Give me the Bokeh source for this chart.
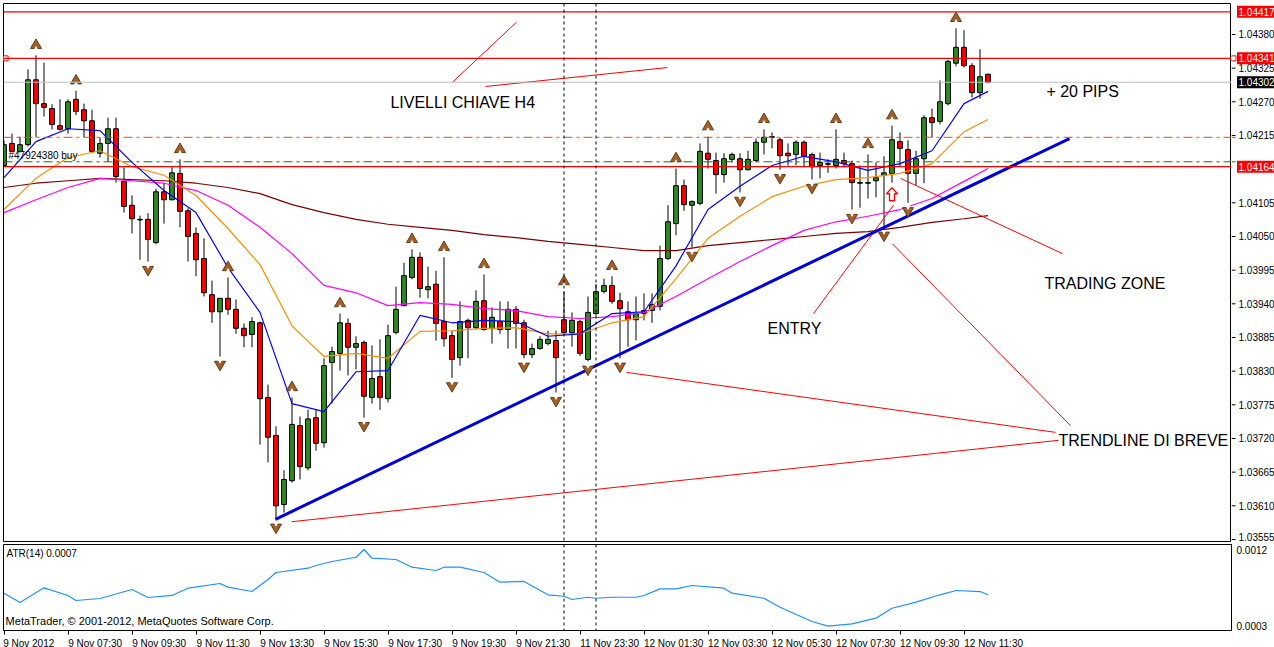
from bokeh.plotting import figure
from bokeh.layouts import column, row
from bokeh.models import (Range1d, FixedTicker, PrintfTickFormatter, CustomJSTickFormatter,
                          Label, Span, ColumnDataSource)
from bokeh.core.properties import value
from bokeh.embed import file_html
from bokeh.resources import INLINE

# ---------------- data (M15 chart) ----------------
opens = [1.04166, 1.04202, 1.04189, 1.04200, 1.04306, 1.04267, 1.04259, 1.04231, 1.04226, 1.04274,
         1.04257, 1.04239, 1.04186, 1.04202, 1.04226, 1.04140, 1.04101, 1.04078, 1.04078, 1.04040,
         1.04123, 1.04110, 1.04153, 1.04092, 1.04055, 1.04014, 1.03955, 1.03927, 1.03949, 1.03931,
         1.03900, 1.03890, 1.03909, 1.03787, 1.03725, 1.03612, 1.03651, 1.03741, 1.03672, 1.03754,
         1.03713, 1.03844, 1.03859, 1.03908, 1.03869, 1.03877, 1.03787, 1.03821, 1.03785, 1.03893,
         1.03937, 1.03983, 1.04016, 1.03963, 1.03972, 1.03911, 1.03888, 1.03852, 1.03913, 1.03901,
         1.03945, 1.03900, 1.03911, 1.03898, 1.03931, 1.03909, 1.03857, 1.03867, 1.03875, 1.03880,
         1.03914, 1.03893, 1.03911, 1.03849, 1.03924, 1.03960, 1.03970, 1.03945, 1.03927, 1.03914,
         1.03924, 1.03929, 1.03936, 1.04014, 1.04071, 1.04133, 1.04101, 1.04104, 1.04186, 1.04174,
         1.04151, 1.04176, 1.04177, 1.04159, 1.04174, 1.04204, 1.04213, 1.04208, 1.04186, 1.04184,
         1.04204, 1.04184, 1.04166, 1.04169, 1.04166, 1.04174, 1.04169, 1.04138, 1.04138, 1.04141,
         1.04150, 1.04153, 1.04205, 1.04192, 1.04153, 1.04177, 1.04244, 1.04238, 1.04267, 1.04333,
         1.04359, 1.04329, 1.04285, 1.04315]
highs = [1.04207, 1.04218, 1.04213, 1.04323, 1.04346, 1.04334, 1.04266, 1.04274, 1.04274, 1.04288,
         1.04267, 1.04257, 1.04212, 1.04244, 1.04244, 1.04163, 1.04117, 1.04084, 1.04088, 1.04128,
         1.04137, 1.04163, 1.04176, 1.04096, 1.04065, 1.04047, 1.03978, 1.03949, 1.03983, 1.03947,
         1.03908, 1.03918, 1.03911, 1.03808, 1.03740, 1.03668, 1.03787, 1.03756, 1.03767, 1.03767,
         1.03851, 1.03870, 1.03924, 1.03916, 1.03887, 1.03880, 1.03872, 1.03882, 1.03906, 1.03968,
         1.04007, 1.04029, 1.04024, 1.04001, 1.03994, 1.04016, 1.03896, 1.03944, 1.03916, 1.03962,
         1.03988, 1.03934, 1.03944, 1.03944, 1.03936, 1.03914, 1.03875, 1.03887, 1.03896, 1.03896,
         1.03960, 1.03926, 1.03914, 1.03952, 1.03972, 1.03981, 1.03985, 1.03958, 1.03944, 1.03952,
         1.03957, 1.03957, 1.04035, 1.04101, 1.04161, 1.04143, 1.04109, 1.04202, 1.04213, 1.04187,
         1.04186, 1.04187, 1.04186, 1.04190, 1.04210, 1.04225, 1.04220, 1.04212, 1.04202, 1.04207,
         1.04207, 1.04187, 1.04187, 1.04176, 1.04225, 1.04187, 1.04174, 1.04166, 1.04184, 1.04171,
         1.04181, 1.04231, 1.04220, 1.04207, 1.04190, 1.04248, 1.04259, 1.04305, 1.04339, 1.04390,
         1.04387, 1.04333, 1.04356, 1.04316]
lows = [1.04164, 1.04189, 1.04187, 1.04197, 1.04212, 1.04246, 1.04225, 1.04223, 1.04218, 1.04248,
        1.04212, 1.04187, 1.04179, 1.04172, 1.04138, 1.04089, 1.04055, 1.04012, 1.04009, 1.04037,
        1.04071, 1.04109, 1.04065, 1.04009, 1.03985, 1.03952, 1.03909, 1.03854, 1.03922, 1.03891,
        1.03869, 1.03869, 1.03710, 1.03681, 1.03588, 1.03599, 1.03648, 1.03653, 1.03668, 1.03700,
        1.03705, 1.03777, 1.03831, 1.03823, 1.03833, 1.03754, 1.03777, 1.03767, 1.03779, 1.03890,
        1.03936, 1.03980, 1.03950, 1.03949, 1.03880, 1.03870, 1.03819, 1.03839, 1.03851, 1.03898,
        1.03896, 1.03875, 1.03891, 1.03867, 1.03867, 1.03851, 1.03851, 1.03865, 1.03872, 1.03795,
        1.03893, 1.03870, 1.03855, 1.03846, 1.03921, 1.03957, 1.03940, 1.03851, 1.03870, 1.03880,
        1.03913, 1.03909, 1.03929, 1.04011, 1.04052, 1.04092, 1.04032, 1.04101, 1.04161, 1.04120,
        1.04138, 1.04171, 1.04122, 1.04158, 1.04171, 1.04184, 1.04194, 1.04159, 1.04166, 1.04166,
        1.04163, 1.04143, 1.04145, 1.04154, 1.04161, 1.04163, 1.04094, 1.04097, 1.04112, 1.04114,
        1.04065, 1.04138, 1.04164, 1.04105, 1.04133, 1.04137, 1.04212, 1.04233, 1.04264, 1.04328,
        1.04326, 1.04277, 1.04275, 1.04300]
closes = [1.04200, 1.04189, 1.04200, 1.04306, 1.04267, 1.04261, 1.04233, 1.04225, 1.04270, 1.04254,
          1.04239, 1.04189, 1.04202, 1.04226, 1.04148, 1.04099, 1.04079, 1.04077, 1.04045, 1.04123,
          1.04110, 1.04154, 1.04091, 1.04050, 1.04012, 1.03958, 1.03927, 1.03949, 1.03931, 1.03900,
          1.03888, 1.03911, 1.03785, 1.03722, 1.03610, 1.03653, 1.03743, 1.03674, 1.03752, 1.03712,
          1.03839, 1.03862, 1.03909, 1.03869, 1.03875, 1.03789, 1.03818, 1.03787, 1.03888, 1.03931,
          1.03986, 1.04016, 1.03965, 1.03968, 1.03908, 1.03883, 1.03849, 1.03911, 1.03901, 1.03944,
          1.03898, 1.03918, 1.03898, 1.03931, 1.03908, 1.03857, 1.03867, 1.03882, 1.03882, 1.03852,
          1.03893, 1.03913, 1.03859, 1.03926, 1.03960, 1.03970, 1.03944, 1.03932, 1.03914, 1.03924,
          1.03929, 1.03939, 1.04014, 1.04074, 1.04133, 1.04102, 1.04107, 1.04189, 1.04176, 1.04151,
          1.04177, 1.04184, 1.04159, 1.04176, 1.04204, 1.04212, 1.04212, 1.04182, 1.04182, 1.04204,
          1.04181, 1.04164, 1.04171, 1.04168, 1.04176, 1.04169, 1.04138, 1.04137, 1.04137, 1.04146,
          1.04154, 1.04208, 1.04194, 1.04153, 1.04177, 1.04244, 1.04236, 1.04270, 1.04336, 1.04359,
          1.04329, 1.04285, 1.04311, 1.04302]

# moving averages sampled every 4 bars
ma_bars = [0, 4, 8, 12, 16, 20, 24, 28, 32, 36, 40, 44, 48, 52, 56, 60, 64, 68, 72, 76,
           80, 84, 88, 92, 96, 100, 104, 108, 112, 116, 120, 123]
ma_fast = [1.04146, 1.04205, 1.04226, 1.04223, 1.04171, 1.04125, 1.04089, 1.03999, 1.03926, 1.03777,
           1.03764, 1.03829, 1.03831, 1.03921, 1.03909, 1.03913, 1.03911, 1.03887, 1.03891, 1.03924,
           1.03927, 1.04002, 1.04094, 1.04132, 1.04166, 1.04181, 1.04172, 1.04158, 1.04169, 1.04190,
           1.04267, 1.04287]
ma_mid = [1.04094, 1.04145, 1.04179, 1.04190, 1.04164, 1.04150, 1.04117, 1.04063, 1.04004, 1.03904,
          1.03854, 1.03859, 1.03851, 1.03895, 1.03896, 1.03900, 1.03901, 1.03891, 1.03891, 1.03909,
          1.03919, 1.03981, 1.04047, 1.04083, 1.04115, 1.04132, 1.04143, 1.04146, 1.04153, 1.04169,
          1.04221, 1.04241]
ma_slow = [1.04089, 1.04110, 1.04130, 1.04145, 1.04141, 1.04137, 1.04125, 1.04101, 1.04065, 1.04022,
           1.03970, 1.03958, 1.03937, 1.03942, 1.03939, 1.03932, 1.03929, 1.03919, 1.03916, 1.03919,
           1.03926, 1.03952, 1.03981, 1.04009, 1.04035, 1.04060, 1.04074, 1.04083, 1.04094, 1.04112,
           1.04140, 1.04161]
ma_long = [1.04130, 1.04137, 1.04141, 1.04145, 1.04143, 1.04141, 1.04137, 1.04130, 1.04120, 1.04102,
           1.04089, 1.04078, 1.04070, 1.04065, 1.04060, 1.04053, 1.04048, 1.04042, 1.04037, 1.04032,
           1.04027, 1.04027, 1.04035, 1.04040, 1.04045, 1.04050, 1.04055, 1.04058, 1.04065, 1.04073,
           1.04079, 1.04084]

up_fractals = [4, 9, 22, 28, 36, 42, 51, 55, 60, 70, 76, 84, 88, 95, 104, 108, 111, 119]
down_fractals = [18, 27, 34, 45, 56, 65, 69, 73, 77, 86, 92, 97, 101, 106, 110, 113]

atr_bars = [0, 2, 5, 8, 9, 12, 16, 18, 21, 23, 27, 28, 31, 33, 34, 38, 39, 41, 44, 45, 46, 49, 51,
            54, 55, 57, 60, 62, 65, 68, 70, 71, 73, 74, 76, 79, 80, 82, 84, 86, 90, 91, 95, 97,
            101, 103, 106, 109, 111, 114, 117, 119, 122, 123]
atr_vals = [0.000685, 0.000574, 0.000749, 0.000658, 0.000598, 0.000622, 0.000729, 0.000634, 0.000658,
            0.000745, 0.000801, 0.000757, 0.000705, 0.000848, 0.000932, 0.000983, 0.001015, 0.001063,
            0.001114, 0.001206, 0.001102, 0.001087, 0.000995, 0.000956, 0.000995, 0.000995, 0.000932,
            0.000816, 0.000825, 0.000666, 0.000649, 0.000610, 0.000637, 0.000625, 0.000637, 0.000637,
            0.000658, 0.000737, 0.000737, 0.000777, 0.000745, 0.000685, 0.000625, 0.000518, 0.000348,
            0.000292, 0.000320, 0.000387, 0.000506, 0.000578, 0.000666, 0.000717, 0.000705, 0.000666]

price_ticks = [1.03555, 1.03610, 1.03665, 1.03720, 1.03775, 1.03830, 1.03885, 1.03940, 1.03995,
               1.04050, 1.04105, 1.04215, 1.04270, 1.04325, 1.04380]
red_levels = [1.04417, 1.04341, 1.04164]
bid_level = 1.04302
order_level = 1.04172
dashdot_level = 1.04212
atr_ticks = [0.0003, 0.0012]

time_label_bars = [0, 8, 16, 24, 32, 40, 48, 56, 64, 72, 80, 88, 96, 104, 112, 120]
time_labels = ["9 Nov 2012", "9 Nov 07:30", "9 Nov 09:30", "9 Nov 11:30", "9 Nov 13:30",
               "9 Nov 15:30", "9 Nov 17:30", "9 Nov 19:30", "9 Nov 21:30", "11 Nov 23:30",
               "12 Nov 01:30", "12 Nov 03:30", "12 Nov 05:30", "12 Nov 07:30", "12 Nov 09:30",
               "12 Nov 11:30"]
day_separators = [70, 74]

# chart objects (bar index, price)
trendline = [(33.94, 1.03588), (133.19, 1.04210)]
red_segments = [((56.06, 1.04302), (64.06, 1.04400)),
                ((60.19, 1.04295), (82.94, 1.04326)),
                ((35.94, 1.03584), (131.81, 1.03717)),
                ((77.81, 1.03828), (131.44, 1.03730)),
                ((111.06, 1.04038), (133.31, 1.03741)),
                ((112.06, 1.04145), (132.31, 1.04022)),
                ((101.19, 1.03924), (111.19, 1.04101))]
notes = [("LIVELLI CHIAVE H4", 48.3, 1.04269), ("+ 20 PIPS", 130.3, 1.04287),
         ("TRADING ZONE", 130.06, 1.03973), ("ENTRY", 95.44, 1.03900),
         ("TRENDLINE DI BREVE", 131.81, 1.03717)]
entry_arrow = (111.0, 1.04119)

# ---------------- layout constants ----------------
FRAME_W = 1228
AXIS_W = 43
BAR_PX = 8
X_START = -0.0625
X_END = X_START + FRAME_W / BAR_PX
MAIN_H = 538
Y_BOT, Y_TOP = 1.035517, 1.044306
PPX = MAIN_H / (Y_TOP - Y_BOT)          # pixels per price unit
ATR_H = 86
ATR_BOT, ATR_TOP = 0.0002404, 0.0012656
FONT = "Liberation Sans"
ARROW_C = "#a0602a"

p = figure(frame_width=FRAME_W, frame_height=MAIN_H,
           x_range=Range1d(X_START, X_END), y_range=Range1d(Y_BOT, Y_TOP),
           output_backend="svg", toolbar_location=None, x_axis_location=None,
           y_axis_location=None, min_border_left=3, min_border_top=3,
           min_border_bottom=3, min_border_right=0,
           background_fill_color="white", border_fill_color="white",
           outline_line_color="black", outline_line_width=1)
p.grid.grid_line_color = None

idx = list(range(len(opens)))
body_col = ["#2e8b22" if c > o else "#ff0000" for o, c in zip(opens, closes)]
src = ColumnDataSource(dict(x=idx, o=opens, h=highs, l=lows, c=closes, col=body_col,
                            top=[max(o, c) for o, c in zip(opens, closes)],
                            bot=[min(o, c) for o, c in zip(opens, closes)]))
p.segment(x0="x", y0="l", x1="x", y1="h", source=src, line_color="black", line_width=1)
p.vbar(x="x", top="top", bottom="bot", width=0.6, source=src, fill_color="col",
       line_color="black", line_width=1)

# moving averages
p.line(ma_bars, ma_long, line_color="#800000", line_width=1.2)
p.line(ma_bars, ma_slow, line_color="#ff00ff", line_width=1.2)
p.line(ma_bars, ma_mid, line_color="#ff8c00", line_width=1.2)
p.line(ma_bars, ma_fast, line_color="#0000ff", line_width=1.2)

# horizontal levels
for lv in red_levels:
    p.add_layout(Span(location=lv, dimension="width", line_color="#ff0000", line_width=1.2))
p.add_layout(Span(location=bid_level, dimension="width", line_color="#c0c0c0", line_width=1))
p.add_layout(Span(location=dashdot_level, dimension="width", line_color="#ff4500",
                  line_width=1, line_dash="9 4 3 4"))
p.add_layout(Span(location=order_level, dimension="width", line_color="#0a7a0a",
                  line_width=1, line_dash="9 4 3 4"))
p.scatter([0.2], [red_levels[1]], marker="square", size=5, fill_color="white",
          line_color="#ff0000", line_width=1)

for d in day_separators:
    p.add_layout(Span(location=d, dimension="height", line_color="black",
                      line_width=1, line_dash="3 3"))

# annotation lines
for (x0, y0), (x1, y1) in red_segments:
    p.line([x0, x1], [y0, y1], line_color="#ff0000", line_width=1)
p.line([trendline[0][0], trendline[1][0]], [trendline[0][1], trendline[1][1]],
       line_color="#0000dd", line_width=3)

# fractal arrows
ux = up_fractals
uy = [highs[i] + 10 / PPX for i in up_fractals]
dx = down_fractals
dy = [lows[i] - 8 / PPX for i in down_fractals]
p.scatter(ux, uy, marker="triangle", size=11, fill_color=ARROW_C, line_color="#6b3a12", line_width=1)
p.scatter(ux, [v - 3.5 / PPX for v in uy], marker="triangle", size=5, fill_color="white",
          line_color=None)
p.scatter(dx, dy, marker="inverted_triangle", size=11, fill_color=ARROW_C, line_color="#6b3a12",
          line_width=1)
p.scatter(dx, [v + 3.5 / PPX for v in dy], marker="inverted_triangle", size=5, fill_color="white",
          line_color=None)

# buy arrow (hollow red)
ax, ay = entry_arrow
shape = [(0, -6.5), (5.5, -0.5), (2.5, -0.5), (2.5, 6.5), (-2.5, 6.5), (-2.5, -0.5), (-5.5, -0.5)]
p.patch([ax + sx / BAR_PX for sx, sy in shape], [ay - sy / PPX for sx, sy in shape],
        fill_color="white", line_color="#ff0000", line_width=1.3)

# texts
for txt, tx, ty in notes:
    p.add_layout(Label(x=tx, y=ty, text=txt, text_font=FONT, text_font_size="16px",
                       text_color="black", text_baseline="middle", text_align="left"))
p.add_layout(Label(x=0.56, y=order_level, y_offset=1, text="#47924380 buy", text_font=FONT,
                   text_font_size="10px", text_color="black", text_baseline="bottom",
                   text_align="left"))

# ---------------- price scale strip (right of the main frame) ----------------
pr = figure(frame_width=AXIS_W, frame_height=MAIN_H + 3,
            x_range=Range1d(0, AXIS_W), y_range=Range1d(Y_BOT - 3 / PPX, Y_TOP),
            output_backend="svg", toolbar_location=None, x_axis_location=None,
            y_axis_location=None, min_border_left=0, min_border_right=0,
            min_border_top=3, min_border_bottom=0,
            background_fill_color="white", border_fill_color="white",
            outline_line_color=None)
pr.grid.grid_line_color = None
tick_src = ColumnDataSource(dict(y=price_ticks, t=["%.5f" % v for v in price_ticks],
                                 yoff=[-2 if v == min(price_ticks) else 0 for v in price_ticks]))
pr.segment(x0=0, x1=4, y0="y", y1="y", source=tick_src, line_color="black", line_width=1)
pr.text(x=7, y="y", text="t", source=tick_src, y_offset="yoff", text_font=value(FONT),
        text_font_size="10px", text_color="black", text_baseline="middle", text_align="left")

box_levels = red_levels + [bid_level]
box_cols = ["#ff0000"] * len(red_levels) + ["black"]
box_src = ColumnDataSource(dict(y=box_levels, c=box_cols, t=["%.5f" % v for v in box_levels]))
pr.rect(x=24.5, y="y", width=38, height=12, width_units="screen", height_units="screen",
        source=box_src, fill_color="c", line_color=None)
pr.text(x=7, y="y", text="t", source=box_src, text_font=value(FONT), text_font_size="10px",
        text_color="white", text_baseline="middle", text_align="left")
pr.segment(x0=0, x1=4, y0=[order_level, dashdot_level], y1=[order_level, dashdot_level],
           line_color=["#0a7a0a", "#ff4500"], line_width=1)
pr.scatter([2], [red_levels[1]], marker="square", size=5, fill_color="white",
           line_color="#ff0000", line_width=1)

# ---------------- ATR panel ----------------
pa = figure(frame_width=FRAME_W, frame_height=ATR_H, x_range=p.x_range,
            y_range=Range1d(ATR_BOT, ATR_TOP), output_backend="svg", toolbar_location=None,
            y_axis_location="right", min_border_left=3, min_border_top=0,
            min_border_bottom=0, min_border_right=AXIS_W,
            background_fill_color="white", border_fill_color="white",
            outline_line_color="black", outline_line_width=1)
pa.grid.grid_line_color = None
pa.line(atr_bars, atr_vals, line_color="#1e90ff", line_width=1.2)
for d in day_separators:
    pa.add_layout(Span(location=d, dimension="height", line_color="black",
                       line_width=1, line_dash="3 3"))

ay2 = pa.yaxis[0]
ay2.ticker = FixedTicker(ticks=atr_ticks)
ay2.formatter = PrintfTickFormatter(format="%.4f")
ay2.major_tick_out = 0
ay2.major_tick_in = 0
ay2.minor_tick_line_color = None
ay2.major_label_standoff = 5
ay2.major_label_text_font = FONT
ay2.major_label_text_font_size = "10px"
ay2.major_label_text_color = "black"

label_ticks = [b + 2.47 * len(t) / BAR_PX for b, t in zip(time_label_bars, time_labels)]
xa = pa.xaxis[0]
xa.ticker = FixedTicker(ticks=label_ticks, minor_ticks=[float(b) for b in time_label_bars])
xa.formatter = CustomJSTickFormatter(args=dict(t=label_ticks, l=time_labels), code="""
let best = 0, dist = 1e9;
for (let j = 0; j < t.length; j++) { const d = Math.abs(t[j] - tick); if (d < dist) { dist = d; best = j; } }
return l[best];
""")
xa.major_tick_line_color = None
xa.major_tick_out = 0
xa.major_tick_in = 0
xa.minor_tick_out = 4
xa.minor_tick_in = 0
xa.minor_tick_line_color = "black"
xa.axis_line_color = "black"
xa.major_label_standoff = 3
xa.major_label_text_font = FONT
xa.major_label_text_font_size = "10px"
xa.major_label_text_color = "black"

pa.add_layout(Label(x=0.31, y=0.00116, text="ATR(14) 0.0007", text_font=FONT,
                    text_font_size="10px", text_color="black", text_baseline="middle",
                    text_align="left"))
pa.add_layout(Label(x=0.2, y=0.000348, text="MetaTrader, \u00a9 2001-2012, MetaQuotes Software Corp.",
                    text_font=FONT, text_font_size="11px", text_color="black",
                    text_baseline="middle", text_align="left"))

layout = column(row(p, pr, spacing=0), pa, spacing=0)
open("out.html", "w").write(file_html(layout, INLINE))
